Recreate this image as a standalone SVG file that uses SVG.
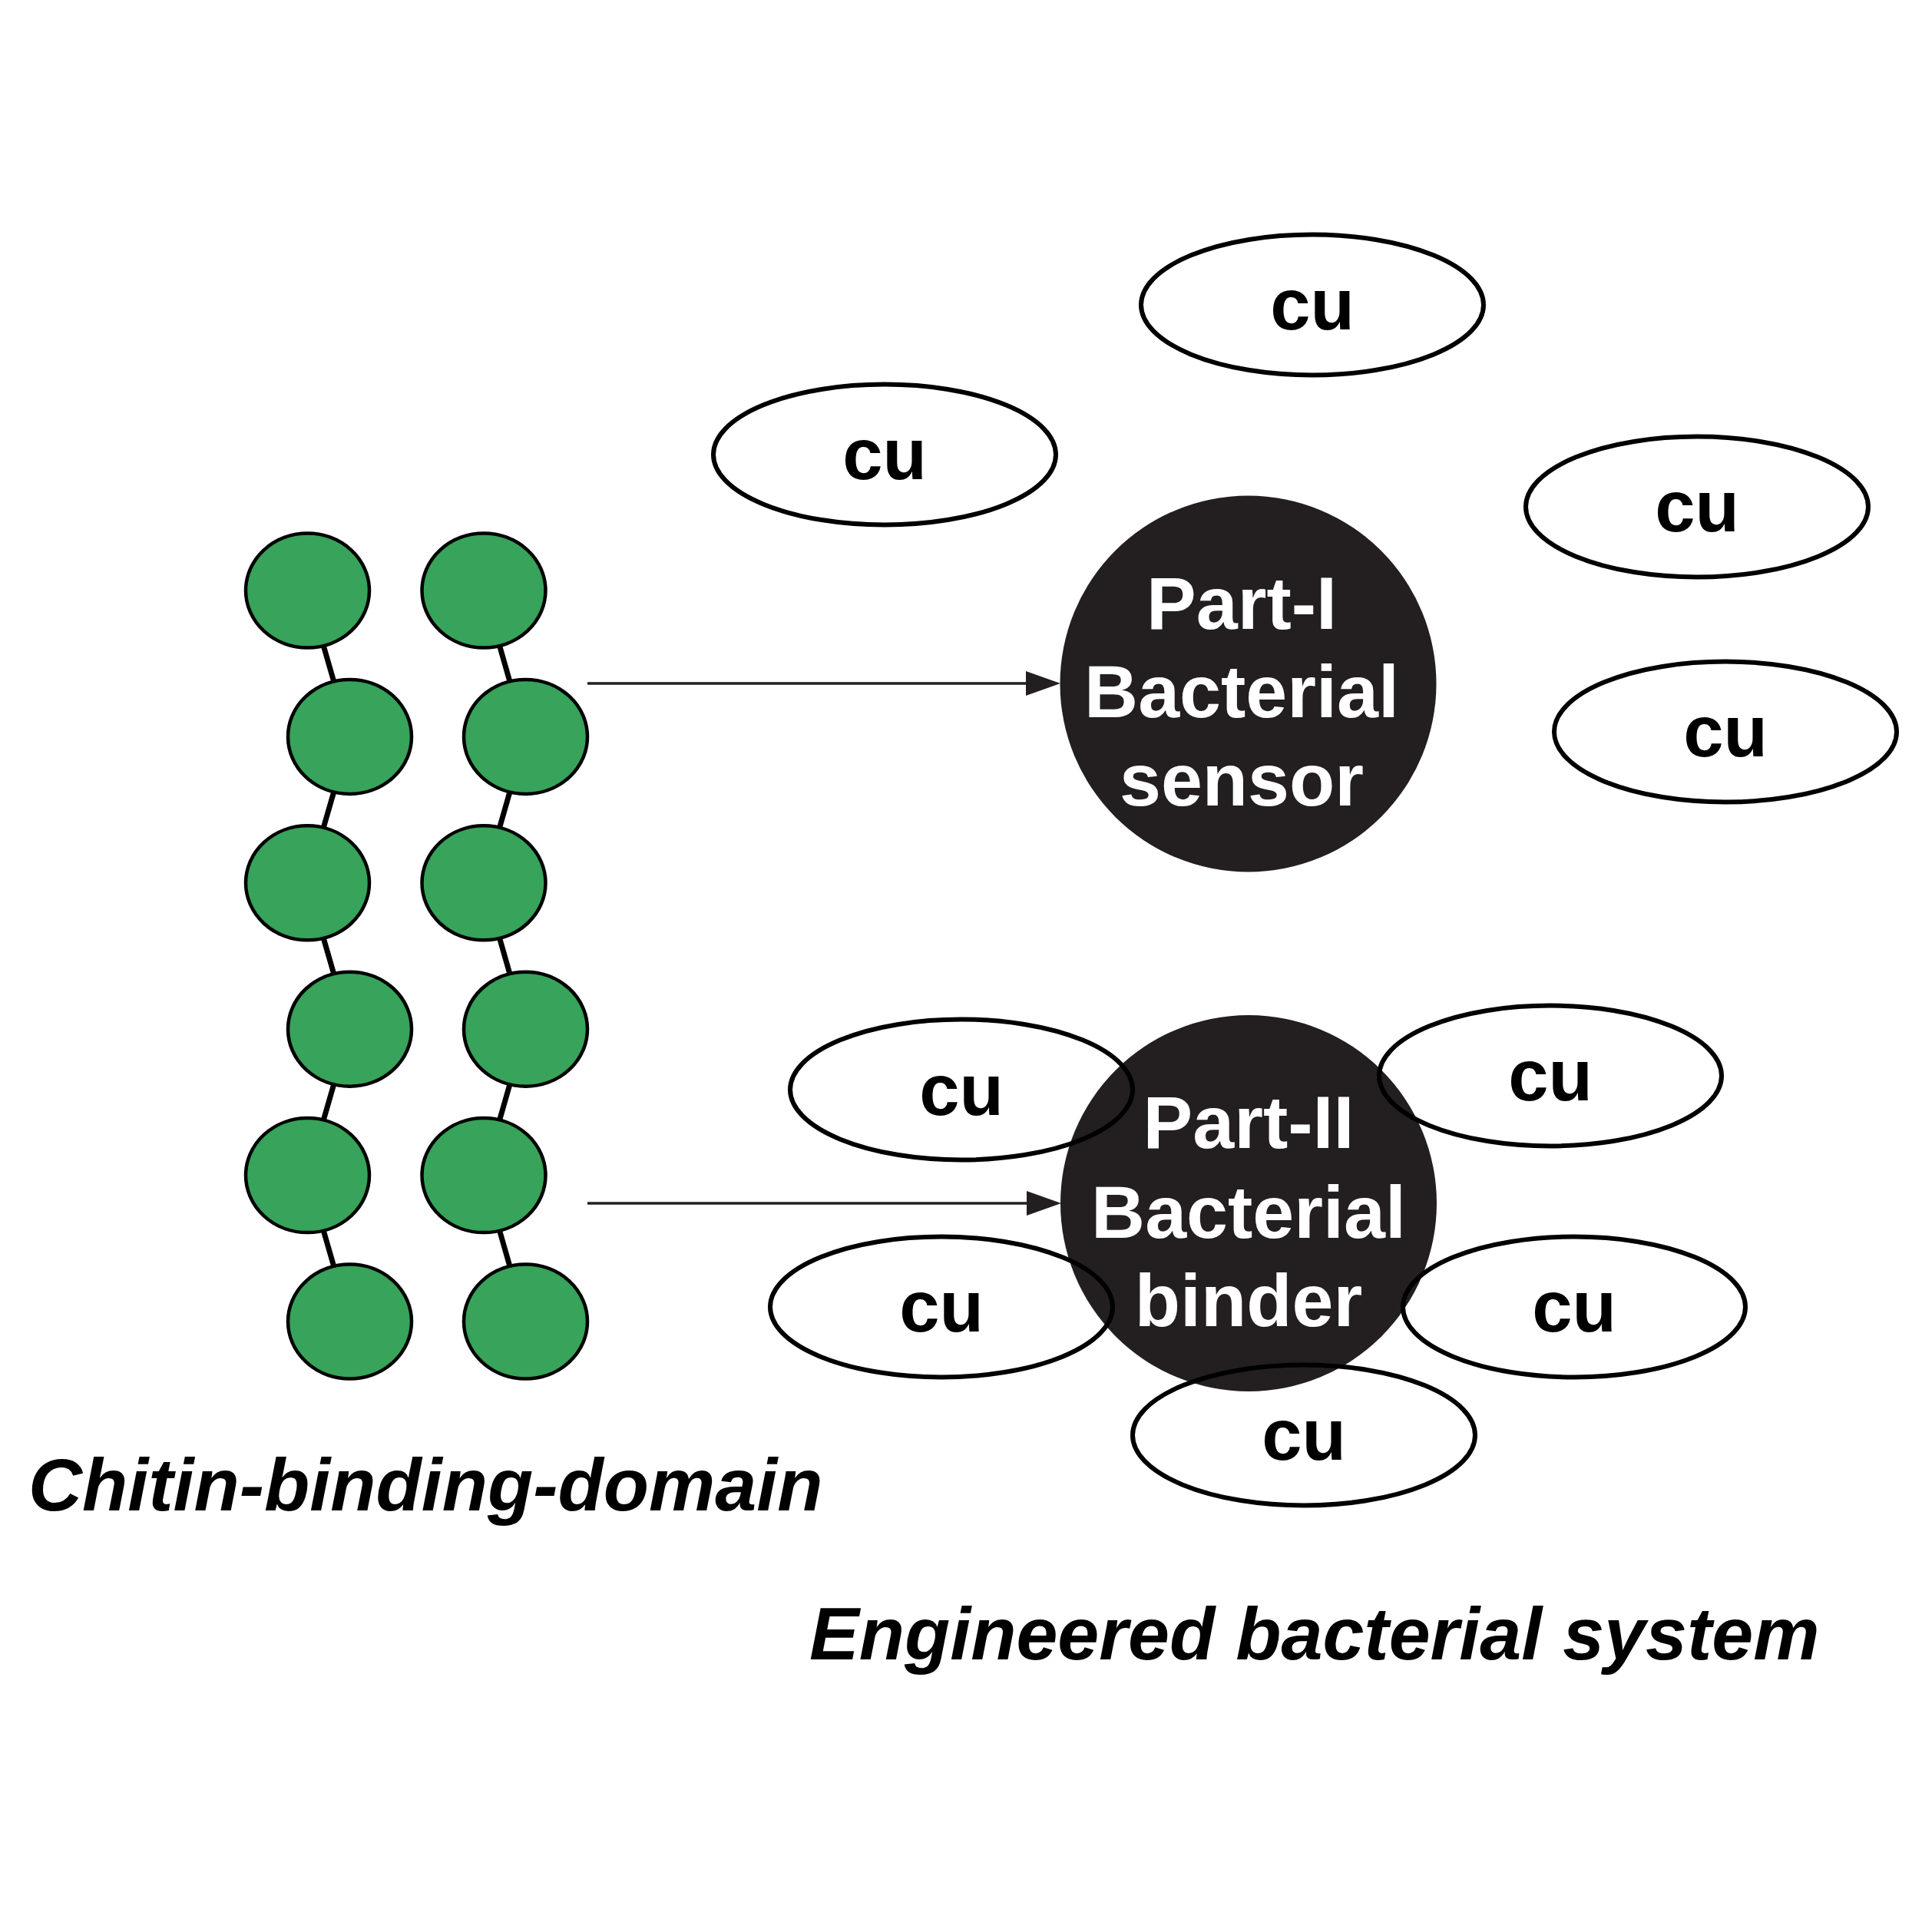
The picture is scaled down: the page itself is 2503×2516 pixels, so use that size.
<svg xmlns="http://www.w3.org/2000/svg" width="2503" height="2516" viewBox="0 0 2503 2516">
<style>
.bead{fill:#37a35b;stroke:#000;stroke-width:4.5}
.link{stroke:#000;stroke-width:7;fill:none}
.arrow{stroke:#231f20;stroke-width:3.5;fill:none}
.cell{fill:#231f20}
.cellt{font-family:"Liberation Sans",Arial,sans-serif;font-weight:bold;font-size:97px;fill:#fff;text-anchor:middle}
.cu{fill:none;stroke:#000;stroke-width:6}
.cut{font-family:"Liberation Sans",Arial,sans-serif;font-weight:bold;font-size:94px;fill:#000;text-anchor:middle}
.lbl{font-family:"Liberation Sans",Arial,sans-serif;font-weight:bold;font-style:italic;font-size:97px;fill:#000}
</style>
<rect width="2503" height="2516" fill="#fff"/>
<g id="connectors">
<polyline class="link" points="400.5,769 455.5,959.4 400.5,1149.8 455.5,1340.2 400.5,1530.6 455.5,1721"/>
<polyline class="link" points="630,769 684.5,959.4 630,1149.8 684.5,1340.2 630,1530.6 684.5,1721"/>
<line class="arrow" x1="765" y1="890" x2="1336" y2="890"/>
<path d="M1336,874 L1381,890 L1336,906 Z" fill="#231f20"/>
<line class="arrow" x1="765" y1="1567" x2="1337" y2="1567"/>
<path d="M1337,1551 L1382,1567 L1337,1583 Z" fill="#231f20"/>
</g>
<g id="chitin-A1"><ellipse class="bead" cx="400.5" cy="769" rx="80.5" ry="74.5"/></g>
<g id="chitin-A2"><ellipse class="bead" cx="455.5" cy="959.4" rx="80.5" ry="74.5"/></g>
<g id="chitin-A3"><ellipse class="bead" cx="400.5" cy="1149.8" rx="80.5" ry="74.5"/></g>
<g id="chitin-A4"><ellipse class="bead" cx="455.5" cy="1340.2" rx="80.5" ry="74.5"/></g>
<g id="chitin-A5"><ellipse class="bead" cx="400.5" cy="1530.6" rx="80.5" ry="74.5"/></g>
<g id="chitin-A6"><ellipse class="bead" cx="455.5" cy="1721" rx="80.5" ry="74.5"/></g>
<g id="chitin-B1"><ellipse class="bead" cx="630" cy="769" rx="80.5" ry="74.5"/></g>
<g id="chitin-B2"><ellipse class="bead" cx="684.5" cy="959.4" rx="80.5" ry="74.5"/></g>
<g id="chitin-B3"><ellipse class="bead" cx="630" cy="1149.8" rx="80.5" ry="74.5"/></g>
<g id="chitin-B4"><ellipse class="bead" cx="684.5" cy="1340.2" rx="80.5" ry="74.5"/></g>
<g id="chitin-B5"><ellipse class="bead" cx="630" cy="1530.6" rx="80.5" ry="74.5"/></g>
<g id="chitin-B6"><ellipse class="bead" cx="684.5" cy="1721" rx="80.5" ry="74.5"/></g>
<g id="part1">
<circle class="cell" cx="1625.5" cy="890.5" r="245"/>
<text class="cellt" x="1617" y="819">Part-I</text>
<text class="cellt" x="1617" y="934">Bacterial</text>
<text class="cellt" x="1617" y="1049">sensor</text>
</g>
<g id="part2">
<circle class="cell" cx="1626" cy="1567" r="245"/>
<text class="cellt" x="1626" y="1495">Part-II</text>
<text class="cellt" x="1626" y="1612">Bacterial</text>
<text class="cellt" x="1626" y="1727">binder</text>
</g>
<g id="cu-1"><ellipse class="cu" cx="1709" cy="397" rx="223" ry="91.5"/><text class="cut" x="1709" y="429">cu</text></g>
<g id="cu-2"><ellipse class="cu" cx="1152" cy="592" rx="223" ry="91.5"/><text class="cut" x="1152" y="624">cu</text></g>
<g id="cu-3"><ellipse class="cu" cx="2210" cy="660" rx="223" ry="91.5"/><text class="cut" x="2210" y="692">cu</text></g>
<g id="cu-4"><ellipse class="cu" cx="2247" cy="953" rx="223" ry="91.5"/><text class="cut" x="2247" y="985">cu</text></g>
<g id="cu-5"><ellipse class="cu" cx="1252" cy="1419" rx="223" ry="91.5"/><text class="cut" x="1252" y="1452">cu</text></g>
<g id="cu-6"><ellipse class="cu" cx="2019" cy="1401" rx="223" ry="91.5"/><text class="cut" x="2019" y="1433">cu</text></g>
<g id="cu-7"><ellipse class="cu" cx="1226" cy="1702" rx="223" ry="91.5"/><text class="cut" x="1226" y="1734">cu</text></g>
<g id="cu-8"><ellipse class="cu" cx="2050" cy="1702" rx="223" ry="91.5"/><text class="cut" x="2050" y="1734">cu</text></g>
<g id="cu-9"><ellipse class="cu" cx="1698" cy="1869" rx="223" ry="91.5"/><text class="cut" x="1698" y="1901">cu</text></g>
<text class="lbl" x="37" y="1967">Chitin-binding-domain</text>
<text class="lbl" x="1054" y="2161">Engineered bacterial system</text>
</svg>
